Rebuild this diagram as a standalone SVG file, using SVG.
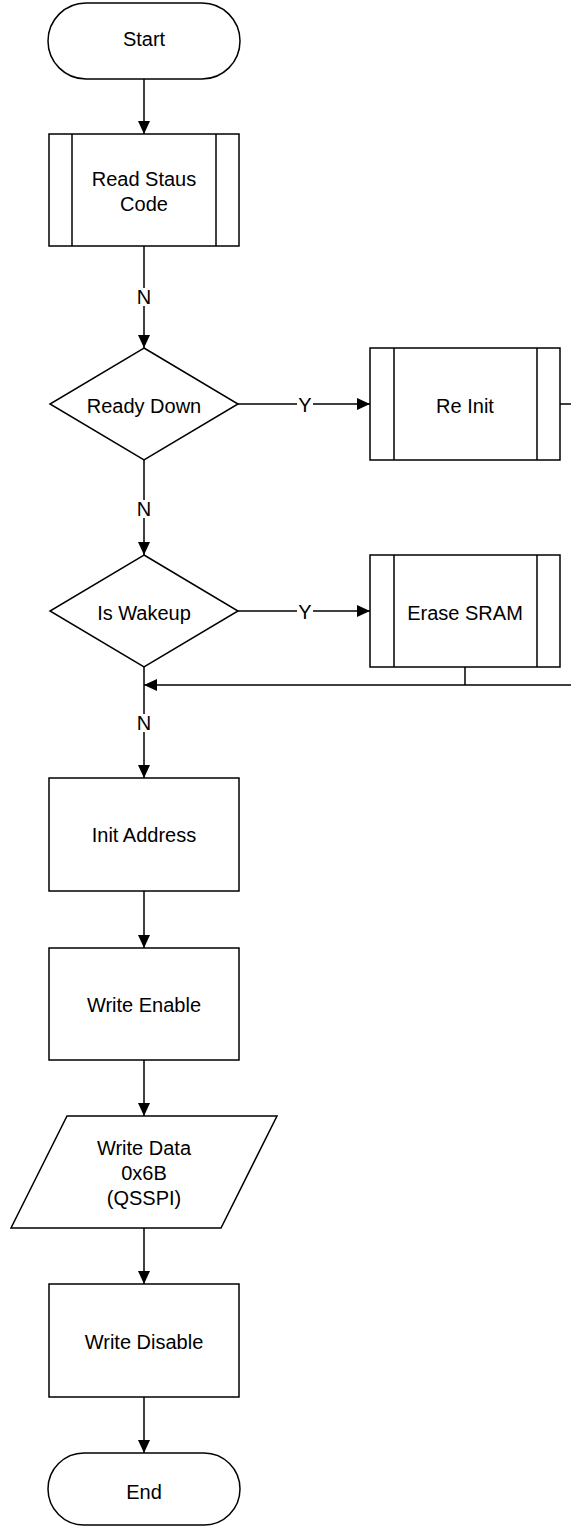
<svg xmlns="http://www.w3.org/2000/svg" width="571" height="1528" viewBox="0 0 571 1528">
<style>
.s{fill:#fff;stroke:#000;stroke-width:1.5}
.l{fill:none;stroke:#000;stroke-width:1.5}
.c{fill:none;stroke:#000;stroke-width:1.5}
text{font-family:"Liberation Sans",Arial,sans-serif;font-size:20px;fill:#000;text-anchor:middle}
</style>
<defs>
<marker id="ar" markerUnits="userSpaceOnUse" markerWidth="13" markerHeight="12" refX="13" refY="6" orient="auto">
<path d="M0,0 L13,6 L0,12 z" fill="#000"/>
</marker>
</defs>
<rect width="571" height="1528" fill="#fff"/>
<g id="connectors">
<path class="c" d="M144,79 V134" marker-end="url(#ar)"/>
<path class="c" d="M144,246 V288"/>
<path class="c" d="M144,306 V348" marker-end="url(#ar)"/>
<path class="c" d="M238,404 H297"/>
<path class="c" d="M313,404 H370" marker-end="url(#ar)"/>
<path class="c" d="M144,460 V500"/>
<path class="c" d="M144,518 V555" marker-end="url(#ar)"/>
<path class="c" d="M238,611 H297"/>
<path class="c" d="M313,611 H370" marker-end="url(#ar)"/>
<path class="c" d="M560,404 H585 V685 H144" marker-end="url(#ar)"/>
<path class="c" d="M465,667 V685"/>
<path class="c" d="M144,667 V714"/>
<path class="c" d="M144,732 V778" marker-end="url(#ar)"/>
<path class="c" d="M144,891 V948" marker-end="url(#ar)"/>
<path class="c" d="M144,1060 V1116" marker-end="url(#ar)"/>
<path class="c" d="M144,1228 V1284" marker-end="url(#ar)"/>
<path class="c" d="M144,1397 V1453" marker-end="url(#ar)"/>
<text x="144" y="304">N</text>
<text x="144" y="516">N</text>
<text x="144" y="730">N</text>
<text x="305" y="412">Y</text>
<text x="305" y="619">Y</text>
</g>
<g id="start">
<rect class="s" x="48" y="3" width="192" height="76" rx="38"/>
<text x="144" y="46">Start</text>
</g>
<g id="read-status">
<rect class="s" x="49" y="134" width="190" height="112"/>
<path class="l" d="M72,134 V246 M216,134 V246"/>
<text x="144" y="186">Read Staus</text>
<text x="144" y="211">Code</text>
</g>
<g id="ready-down">
<path class="s" d="M144,348 L238,404 L144,460 L50,404 Z"/>
<text x="144" y="413">Ready Down</text>
</g>
<g id="re-init">
<rect class="s" x="370" y="348" width="190" height="112"/>
<path class="l" d="M394,348 V460 M537,348 V460"/>
<text x="465" y="413">Re Init</text>
</g>
<g id="is-wakeup">
<path class="s" d="M144,555 L238,611 L144,667 L50,611 Z"/>
<text x="144" y="620">Is Wakeup</text>
</g>
<g id="erase-sram">
<rect class="s" x="370" y="555" width="190" height="112"/>
<path class="l" d="M394,555 V667 M537,555 V667"/>
<text x="465" y="620">Erase SRAM</text>
</g>
<g id="init-address">
<rect class="s" x="49" y="778" width="190" height="113"/>
<text x="144" y="842">Init Address</text>
</g>
<g id="write-enable">
<rect class="s" x="49" y="948" width="190" height="112"/>
<text x="144" y="1012">Write Enable</text>
</g>
<g id="write-data">
<path class="s" d="M67,1116 H277 L221,1228 H11 Z"/>
<text x="144" y="1155">Write Data</text>
<text x="144" y="1180">0x6B</text>
<text x="144" y="1205">(QSSPI)</text>
</g>
<g id="write-disable">
<rect class="s" x="49" y="1284" width="190" height="113"/>
<text x="144" y="1349">Write Disable</text>
</g>
<g id="end">
<rect class="s" x="48" y="1453" width="192" height="72" rx="36"/>
<text x="144" y="1499">End</text>
</g>
</svg>
